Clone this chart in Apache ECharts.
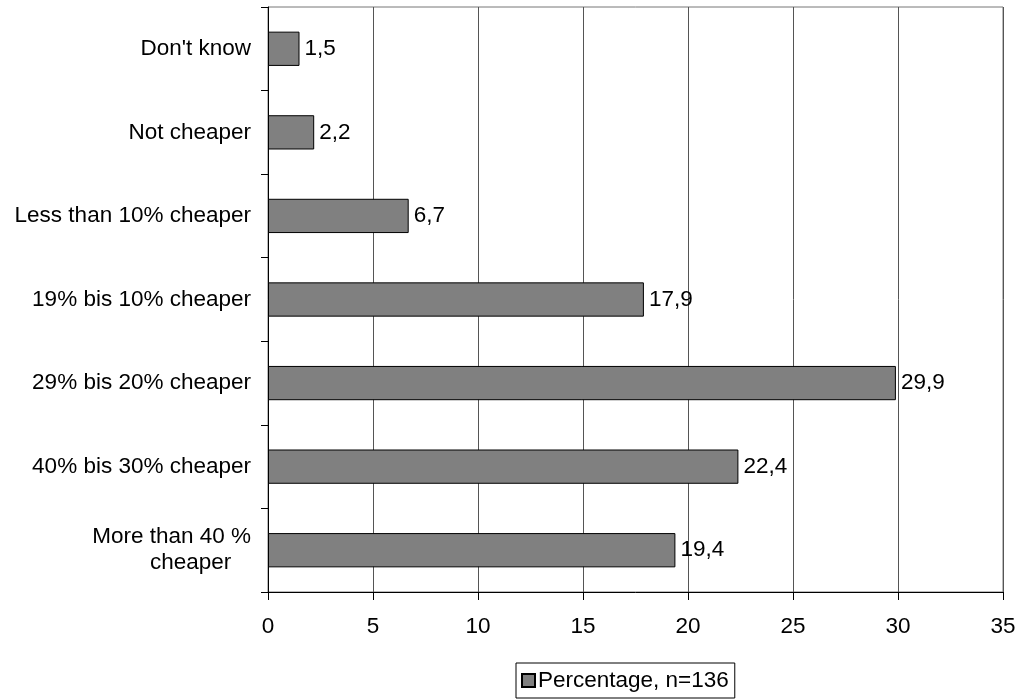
<!DOCTYPE html>
<html>
<head>
<meta charset="utf-8">
<title>index.html</title>
<script src="https://cdn.jsdelivr.net/npm/echarts@6/dist/echarts.min.js"></script>
<style>
  html, body { margin: 0; padding: 0; background: #fff; }
  #main { width: 1021px; height: 700px; }
</style>
</head>
<body>
<div id="main"></div>
<script>
// categories from bottom to top (as the axis draws them)
var categories = ['More than 40 %\ncheaper', '40% bis 30% cheaper', '29% bis 20% cheaper',
  '19% bis 10% cheaper', 'Less than 10% cheaper', 'Not cheaper', "Don't know"];
var values = [19.4, 22.4, 29.9, 17.9, 6.7, 2.2, 1.5];
var seriesName = 'Percentage, n=136';
var xTicks = [0, 35, 5]; // min, max, interval

var myChart = echarts.init(document.getElementById('main'));
var font = 'Liberation Sans, Arial, sans-serif';
var fs = 22.5;

myChart.setOption({
  animation: false,
  textStyle: { fontFamily: font },
  grid: { left: 268, right: 18, top: 7, bottom: 108, show: true, borderColor: '#777', borderWidth: 1 },
  legend: {
    bottom: 2,
    left: 516,
    data: [{ name: seriesName, icon: 'rect' }],
    itemWidth: 13,
    itemHeight: 13,
    itemGap: 5,
    padding: [6, 6, 6, 5],
    borderColor: '#000',
    borderWidth: 1,
    textStyle: { color: '#000', fontSize: fs, fontFamily: font, padding: [0, 0, 0, -2] }
  },
  xAxis: {
    type: 'value',
    min: xTicks[0],
    max: xTicks[1],
    interval: xTicks[2],
    axisLine: { show: true, lineStyle: { color: '#000', width: 1 } },
    axisTick: { show: true, length: 8, lineStyle: { color: '#000' } },
    axisLabel: { color: '#000', fontSize: fs, margin: 23, fontFamily: font },
    splitLine: { show: true, lineStyle: { color: '#555', width: 1 } }
  },
  yAxis: {
    type: 'category',
    data: categories,
    axisLine: { show: true, onZero: false, lineStyle: { color: '#000', width: 1 } },
    axisTick: { show: true, length: 7, lineStyle: { color: '#000' } },
    axisLabel: {
      color: '#000',
      fontSize: fs,
      margin: 17,
      lineHeight: 26,
      fontFamily: font,
      formatter: function (v) {
        if (v.indexOf('\n') < 0) return v;
        var parts = v.split('\n');
        return '{a|' + parts[0] + '}\n{b|' + parts[1] + '}';
      },
      rich: {
        a: { align: 'center', fontSize: fs, lineHeight: 26, color: '#000', fontFamily: font },
        b: { align: 'center', fontSize: fs, lineHeight: 26, color: '#000', fontFamily: font, padding: [0, 0, 0, 38] }
      }
    }
  },
  series: [{
    name: seriesName,
    type: 'bar',
    data: values,
    barCategoryGap: '59%',
    itemStyle: { color: '#808080', borderColor: '#000', borderWidth: 1 },
    label: {
      show: true,
      position: 'right',
      distance: 5,
      color: '#000',
      fontSize: fs,
      fontFamily: font,
      formatter: function (p) { return String(p.value.toFixed(1)).replace('.', ','); }
    }
  }]
});
</script>
</body>
</html>
